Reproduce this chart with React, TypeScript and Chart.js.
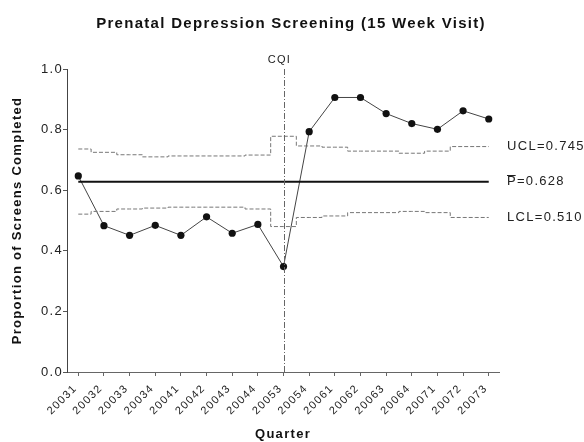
import React, { useEffect, useRef } from "react";
import { Chart, registerables } from "chart.js";

Chart.register(...registerables);

const quarters = ["20031", "20032", "20033", "20034", "20041", "20042", "20043", "20044", "20053", "20054", "20061", "20062", "20063", "20064", "20071", "20072", "20073"];
const proportions = [0.647, 0.483, 0.451, 0.484, 0.451, 0.512, 0.458, 0.487, 0.348, 0.793, 0.906, 0.906, 0.853, 0.820, 0.801, 0.862, 0.835];
const ucl = [0.736, 0.725, 0.717, 0.710, 0.713, 0.713, 0.713, 0.716, 0.778, 0.746, 0.742, 0.729, 0.729, 0.722, 0.729, 0.744, 0.744];
const lcl = [0.521, 0.530, 0.538, 0.541, 0.544, 0.544, 0.544, 0.538, 0.480, 0.510, 0.515, 0.526, 0.526, 0.530, 0.526, 0.510, 0.510];
const PBAR = 0.628;
const UCL_LABEL = "UCL=0.745";
const PBAR_LABEL = "=0.628";
const LCL_LABEL = "LCL=0.510";
const CQI_INDEX = 8;
const yTicks = [0, 0.2, 0.4, 0.6, 0.8, 1.0];
const TITLE = "Prenatal Depression Screening (15 Week Visit)";

const FONT = "'Liberation Sans', Arial, Helvetica, sans-serif";
const SPACING = "1.3px";

const toXY = (arr: number[]) => arr.map((v, i) => ({ x: i, y: v }));

const spacingPlugin = {
  id: "spacing",
  beforeUpdate(chart: any) { chart.ctx.letterSpacing = SPACING; },
  beforeLayout(chart: any) { chart.ctx.letterSpacing = SPACING; },
  beforeDraw(chart: any) { chart.ctx.letterSpacing = SPACING; },
};

const annotatePlugin = {
  id: "annotate",
  afterDatasetsDraw(chart: any) {
    const { ctx, scales } = chart;
    const xs = scales.x;
    const ys = scales.y;
    ctx.save();
    // CQI vertical line
    const cx = Math.round(xs.getPixelForValue(CQI_INDEX)) + 0.5;
    ctx.strokeStyle = "#666";
    ctx.lineWidth = 1;
    ctx.setLineDash([6, 2, 1, 2]);
    ctx.beginPath();
    ctx.moveTo(cx, ys.getPixelForValue(1.0));
    ctx.lineTo(cx, ys.getPixelForValue(0));
    ctx.stroke();
    ctx.setLineDash([]);
    ctx.fillStyle = "#222";
    ctx.font = `11px ${FONT}`;
    ctx.textAlign = "center";
    ctx.textBaseline = "middle";
    ctx.fillText("CQI", cx - 5, 60);

    // right-side labels
    const lx = 507;
    ctx.font = `13px ${FONT}`;
    ctx.textAlign = "left";
    ctx.fillStyle = "#222";
    const yU = ys.getPixelForValue(ucl[ucl.length - 1]);
    const yP = ys.getPixelForValue(PBAR);
    const yL = ys.getPixelForValue(lcl[lcl.length - 1]);
    ctx.fillText(UCL_LABEL, lx, yU);
    ctx.fillText("P", lx, yP);
    const pw = ctx.measureText("P").width;
    ctx.fillText(PBAR_LABEL, lx + pw, yP);
    ctx.strokeStyle = "#222";
    ctx.beginPath();
    ctx.moveTo(lx, Math.round(yP - 7) + 0.5);
    ctx.lineTo(lx + pw - 1.3, Math.round(yP - 7) + 0.5);
    ctx.stroke();
    ctx.fillText(LCL_LABEL, lx, yL);

    // title
    ctx.font = `bold 15px ${FONT}`;
    ctx.textAlign = "center";
    ctx.fillStyle = "#111";
    ctx.fillText(TITLE, 291, 24);
    ctx.restore();
  },
};

export default function App() {
  const ref = useRef<HTMLCanvasElement | null>(null);
  useEffect(() => {
    if (!ref.current) return;
    const chart = new Chart(ref.current, {
      type: "line",
      data: {
        datasets: [
          {
            label: "UCL",
            data: toXY(ucl),
            borderColor: "#777",
            borderWidth: 1,
            borderDash: [4, 2],
            stepped: "middle",
            pointRadius: 0,
            fill: false,
          },
          {
            label: "LCL",
            data: toXY(lcl),
            borderColor: "#777",
            borderWidth: 1,
            borderDash: [4, 2],
            stepped: "middle",
            pointRadius: 0,
            fill: false,
          },
          {
            label: "P",
            data: toXY(quarters.map(() => PBAR)),
            borderColor: "#111",
            borderWidth: 2,
            pointRadius: 0,
            fill: false,
          },
          {
            label: "Proportion",
            data: toXY(proportions),
            borderColor: "#444",
            borderWidth: 1,
            pointRadius: 3.6,
            pointBackgroundColor: "#111",
            pointBorderColor: "#111",
            pointBorderWidth: 0,
            fill: false,
          },
        ],
      },
      options: {
        animation: false,
        responsive: false,
        maintainAspectRatio: false,
        layout: { padding: { top: 69, right: 85, left: 0, bottom: 0 } },
        plugins: { legend: { display: false }, tooltip: { enabled: false }, title: { display: false } },
        scales: {
          x: {
            type: "linear",
            min: -0.44,
            max: 16.4,
            afterFit: (s: any) => { s.height = 70; },
            afterBuildTicks: (s: any) => { s.ticks = quarters.map((_, i) => ({ value: i })); },
            border: { display: true, color: "#666", width: 1 },
            grid: { display: true, drawOnChartArea: false, drawTicks: true, tickLength: 4, tickColor: "#666" },
            ticks: {
              autoSkip: false,
              maxRotation: 45,
              minRotation: 45,
              padding: 6,
              labelOffset: -3,
              color: "#222",
              font: { family: FONT, size: 11 },
              callback: (v: any) => quarters[v] ?? "",
            },
            title: {
              display: true,
              text: "Quarter",
              color: "#111",
              font: { family: FONT, size: 13, weight: "bold" },
              padding: { top: 0, bottom: 0 },
            },
          },
          y: {
            min: 0,
            max: 1,
            afterFit: (s: any) => { s.width = 67; },
            afterBuildTicks: (s: any) => { s.ticks = yTicks.map((v) => ({ value: v })); },
            border: { display: true, color: "#444", width: 1 },
            grid: { display: true, drawOnChartArea: false, drawTicks: true, tickLength: 4, tickColor: "#555" },
            ticks: {
              padding: 0,
              color: "#222",
              font: { family: FONT, size: 13 },
              callback: (v: any) => Number(v).toFixed(1),
            },
            title: {
              display: true,
              text: "Proportion of Screens Completed",
              color: "#111",
              font: { family: FONT, size: 13, weight: "bold" },
              padding: { top: 10, bottom: 0 },
            },
          },
        },
      },
      plugins: [spacingPlugin, annotatePlugin],
    });
    return () => chart.destroy();
  }, []);
  return (
    <div style={{ position: "fixed", left: 0, top: 0, width: 584, height: 442, background: "#fff" }}>
      <canvas ref={ref} width={584} height={442} style={{ width: 584, height: 442 }} />
    </div>
  );
}
